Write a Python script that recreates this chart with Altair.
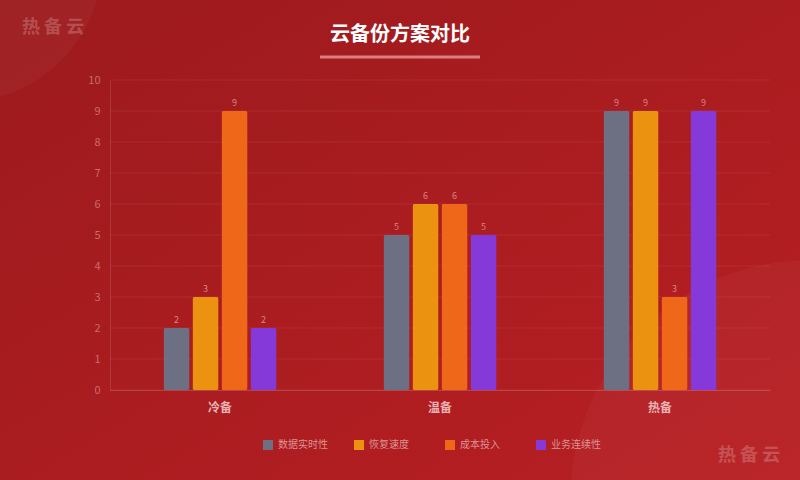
import altair as alt
import pandas as pd
import jinja2

categories = ["冷备", "温备", "热备"]
series = ["数据实时性", "恢复速度", "成本投入", "业务连续性"]
colors = ["#6d6f82", "#ec9211", "#ef6719", "#8439d8"]
values = {
    "数据实时性": [2, 5, 9],
    "恢复速度": [3, 6, 9],
    "成本投入": [9, 6, 3],
    "业务连续性": [2, 5, 9],
}
y_ticks = list(range(0, 11))

rows = []
for s in series:
    for c, v in zip(categories, values[s]):
        rows.append({"方案": c, "指标": s, "值": v})
df = pd.DataFrame(rows)
grid_df = pd.DataFrame({"值": y_ticks})

FONT = "Noto Sans CJK SC"
one = pd.DataFrame({"a": [0]})

bg = alt.Chart(one).mark_rect(
    color=alt.Gradient(
        gradient="linear",
        stops=[alt.GradientStop(color="#9c1a1d", offset=0),
               alt.GradientStop(color="#b81f23", offset=1)],
        x1=0, y1=0, x2=1, y2=1,
    )
).encode(x=alt.value(-110), x2=alt.value(690), y=alt.value(-80), y2=alt.value(400))

circ1 = alt.Chart(one).mark_point(filled=True, color="white", opacity=0.035, shape="circle").encode(
    x=alt.value(-150), y=alt.value(-120), size=alt.value(81450))
circ2 = alt.Chart(one).mark_point(filled=True, color="white", opacity=0.035, shape="circle").encode(
    x=alt.value(700), y=alt.value(420), size=alt.value(230000))

yaxis = alt.Axis(values=y_ticks, tickCount=11, labelFont=FONT, labelFontSize=11, labelColor="#c96a6c",
                 labelPadding=10, ticks=False, domainColor="#ffffff", domainOpacity=0.12,
                 grid=False, zindex=1, labelOverlap=False)
yenc = alt.Y("值:Q", title=None, scale=alt.Scale(domain=[0, 10]), axis=yaxis)

grid = alt.Chart(grid_df).mark_rule(color="white", opacity=0.07, strokeWidth=1).encode(y=yenc)

xaxis = alt.Axis(labelAngle=0, labelFont=FONT, labelFontSize=12, labelFontWeight="bold",
                 labelColor="#eab3b3", labelPadding=12, ticks=False, zindex=1,
                 domainColor="#ffffff", domainOpacity=0.15, grid=False)
xenc = alt.X("方案:N", sort=categories, title=None,
             scale=alt.Scale(paddingInner=0.4727, paddingOuter=0.2364), axis=xaxis)
xoff = alt.XOffset("指标:N", sort=series, scale=alt.Scale(paddingInner=0.1, paddingOuter=0.05))

bars = alt.Chart(df).mark_bar(cornerRadius=2).encode(
    x=xenc, y=yenc, xOffset=xoff,
    color=alt.Color("指标:N", sort=series, scale=alt.Scale(domain=series, range=colors),
                    legend=alt.Legend(title=None, orient="none", legendX=153, legendY=360,
                                      direction="horizontal", columns=4, gridAlign="all",
                                      symbolType="square", symbolSize=100, symbolStrokeWidth=0,
                                      symbolOpacity=1, labelFont=FONT, labelFontSize=10,
                                      labelColor="#dc9293", labelOffset=5, columnPadding=26)),
)

labels = alt.Chart(df).mark_text(dy=-8, fontSize=9, font=FONT, color="#d98284").encode(
    x=xenc, y=yenc, xOffset=xoff, text="值:Q")

title = alt.Chart(one).mark_text(text="云备份方案对比", font=FONT, fontSize=20, fontWeight="bold",
                                 color="white", baseline="middle").encode(x=alt.value(290), y=alt.value(-45))
underline = alt.Chart(one).mark_rule(color="#e58a8c", strokeWidth=3, opacity=0.9).encode(
    x=alt.value(210), x2=alt.value(370), y=alt.value(-23))
wm1 = alt.Chart(one).mark_text(text="热 备 云", font=FONT, fontSize=18, fontWeight="bold",
                               color="white", opacity=0.2, align="left", baseline="middle").encode(
    x=alt.value(-88), y=alt.value(-52))
wm2 = alt.Chart(one).mark_text(text="热 备 云", font=FONT, fontSize=18, fontWeight="bold",
                               color="white", opacity=0.2, align="left", baseline="middle").encode(
    x=alt.value(608), y=alt.value(376))

chart = alt.layer(bg, circ1, circ2, grid, bars, labels, title, underline, wm1, wm2).properties(
    width=660, height=310,
    autosize=alt.AutoSizeParams(type="none"),
    padding={"left": 110, "top": 80, "right": 30, "bottom": 90},
    background="#a81c1f",
).configure_view(stroke=None)

page = jinja2.Template("""<!DOCTYPE html>
<html>
<head>
<meta charset="utf-8">
<style>html,body{margin:0;padding:0;overflow:hidden;background:#a81c1f;}</style>
<script type="text/javascript" src="{{ base_url }}/vega@{{ vega_version }}"></script>
<script type="text/javascript" src="{{ base_url }}/vega-lite@{{ vegalite_version }}"></script>
<script type="text/javascript" src="{{ base_url }}/vega-embed@{{ vegaembed_version }}"></script>
</head>
<body>
<div id="{{ output_div }}"></div>
<script type="text/javascript">
  vegaEmbed("#{{ output_div }}", {{ spec }}, {{ embed_options }}).catch(console.error);
</script>
</body>
</html>
""")

chart.save("out.html", embed_options={"renderer": "svg", "actions": False}, template=page)
